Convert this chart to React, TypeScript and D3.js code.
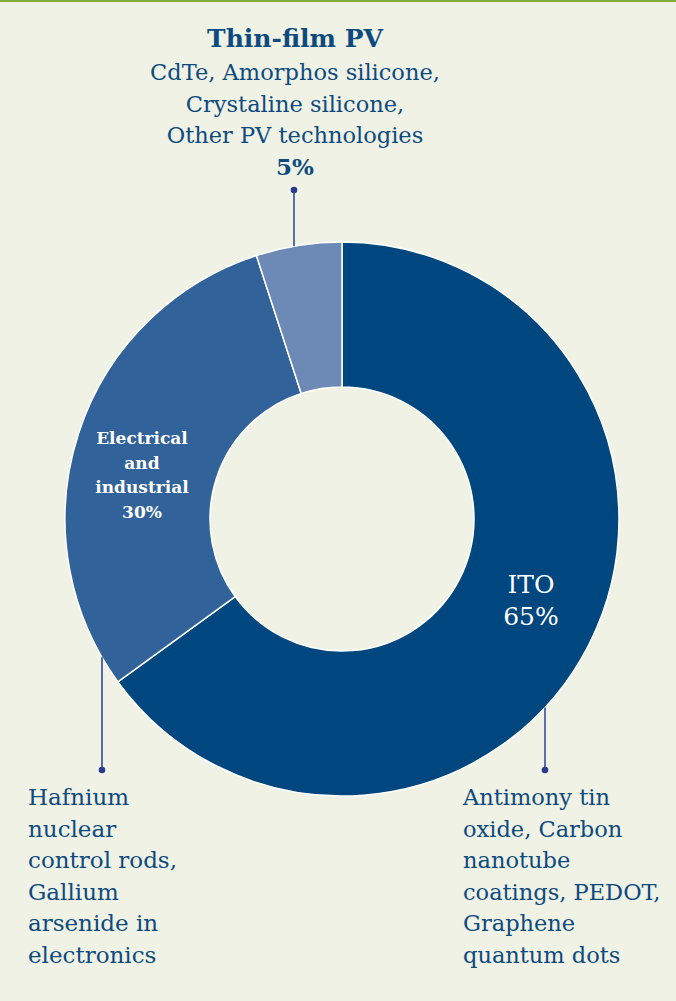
import React from "react";
import * as d3 from "d3";

const categories = ["ITO", "Electrical and industrial", "Thin-film PV"];
const values = [65, 30, 5];
const colors = ["#00467f", "#316299", "#6c8ab5"];

const topTitle = "Thin-film PV";
const topLines = ["CdTe, Amorphos silicone,", "Crystaline silicone,", "Other PV technologies"];
const topPct = "5%";
const leftLines = ["Hafnium", "nuclear", "control rods,", "Gallium", "arsenide in", "electronics"];
const rightLines = ["Antimony tin", "oxide, Carbon", "nanotube", "coatings, PEDOT,", "Graphene", "quantum dots"];
const elecLines = ["Electrical", "and", "industrial", "30%"];
const itoLines = ["ITO", "65%"];

const W = 676, H = 1001;
const cx = 342, cy = 519, R = 277, r = 132;
const FONT = "'DejaVu Serif', serif";
const TXT = "#0d4a80";
const LEAD = "#2b3a8c";

export default function App() {
  const pie = d3.pie<number>().sort(null).value((d) => d)(values);
  const arc = d3.arc<d3.PieArcDatum<number>>().innerRadius(r).outerRadius(R);

  const edgeY = (x: number, sign: number) => cy + sign * Math.sqrt(R * R - (x - cx) * (x - cx));
  const topX = 294;
  const leftX = 102;
  const rightX = 545;

  return (
    <svg width={W} height={H} style={{ position: "absolute", left: 0, top: 0 }} fontFamily={FONT}>
      <rect x={0} y={0} width={W} height={H} fill="#eff2e4" />
      <rect x={0} y={0} width={W} height={2} fill="#7fae3c" />
      <g transform={`translate(${cx},${cy})`}>
        {pie.map((p, i) => (
          <path key={categories[i]} d={arc(p) || ""} fill={colors[i]} stroke="#ffffff" strokeWidth={1.5} />
        ))}
      </g>
      {/* leaders */}
      <line x1={topX} y1={190} x2={topX} y2={edgeY(topX, -1)} stroke="#5a6fa8" strokeWidth={2} />
      <circle cx={topX} cy={190} r={3.3} fill={LEAD} />
      <line x1={leftX} y1={edgeY(leftX, 1)} x2={leftX} y2={770} stroke={LEAD} strokeWidth={1.5} />
      <circle cx={leftX} cy={770} r={3.3} fill={LEAD} />
      <line x1={rightX} y1={edgeY(rightX, 1)} x2={rightX} y2={770} stroke="#5a6fa8" strokeWidth={2} />
      <circle cx={rightX} cy={770} r={3.3} fill={LEAD} />

      {/* top label */}
      <text x={295} y={47} textAnchor="middle" fontSize={25} fontWeight="bold" fill={TXT}>{topTitle}</text>
      {topLines.map((t, i) => (
        <text key={t} x={295} y={80 + i * 31.5} textAnchor="middle" fontSize={22.5} fill={TXT}>{t}</text>
      ))}
      <text x={295} y={175} textAnchor="middle" fontSize={23} fontWeight="bold" fill={TXT}>{topPct}</text>

      {/* left label */}
      {leftLines.map((t, i) => (
        <text key={t} x={28} y={805 + i * 31.6} fontSize={23} fill={TXT}>{t}</text>
      ))}
      {/* right label */}
      {rightLines.map((t, i) => (
        <text key={t} x={463} y={805 + i * 31.6} fontSize={22.5} fill={TXT}>{t}</text>
      ))}

      {/* inner labels */}
      {elecLines.map((t, i) => (
        <text key={t} x={142} y={444 + i * 24.5} textAnchor="middle" fontSize={17} fontWeight="bold" fill="#ffffff">{t}</text>
      ))}
      {itoLines.map((t, i) => (
        <text key={t} x={531} y={593 + i * 32} textAnchor="middle" fontSize={25} fill="#ffffff">{t}</text>
      ))}
    </svg>
  );
}
